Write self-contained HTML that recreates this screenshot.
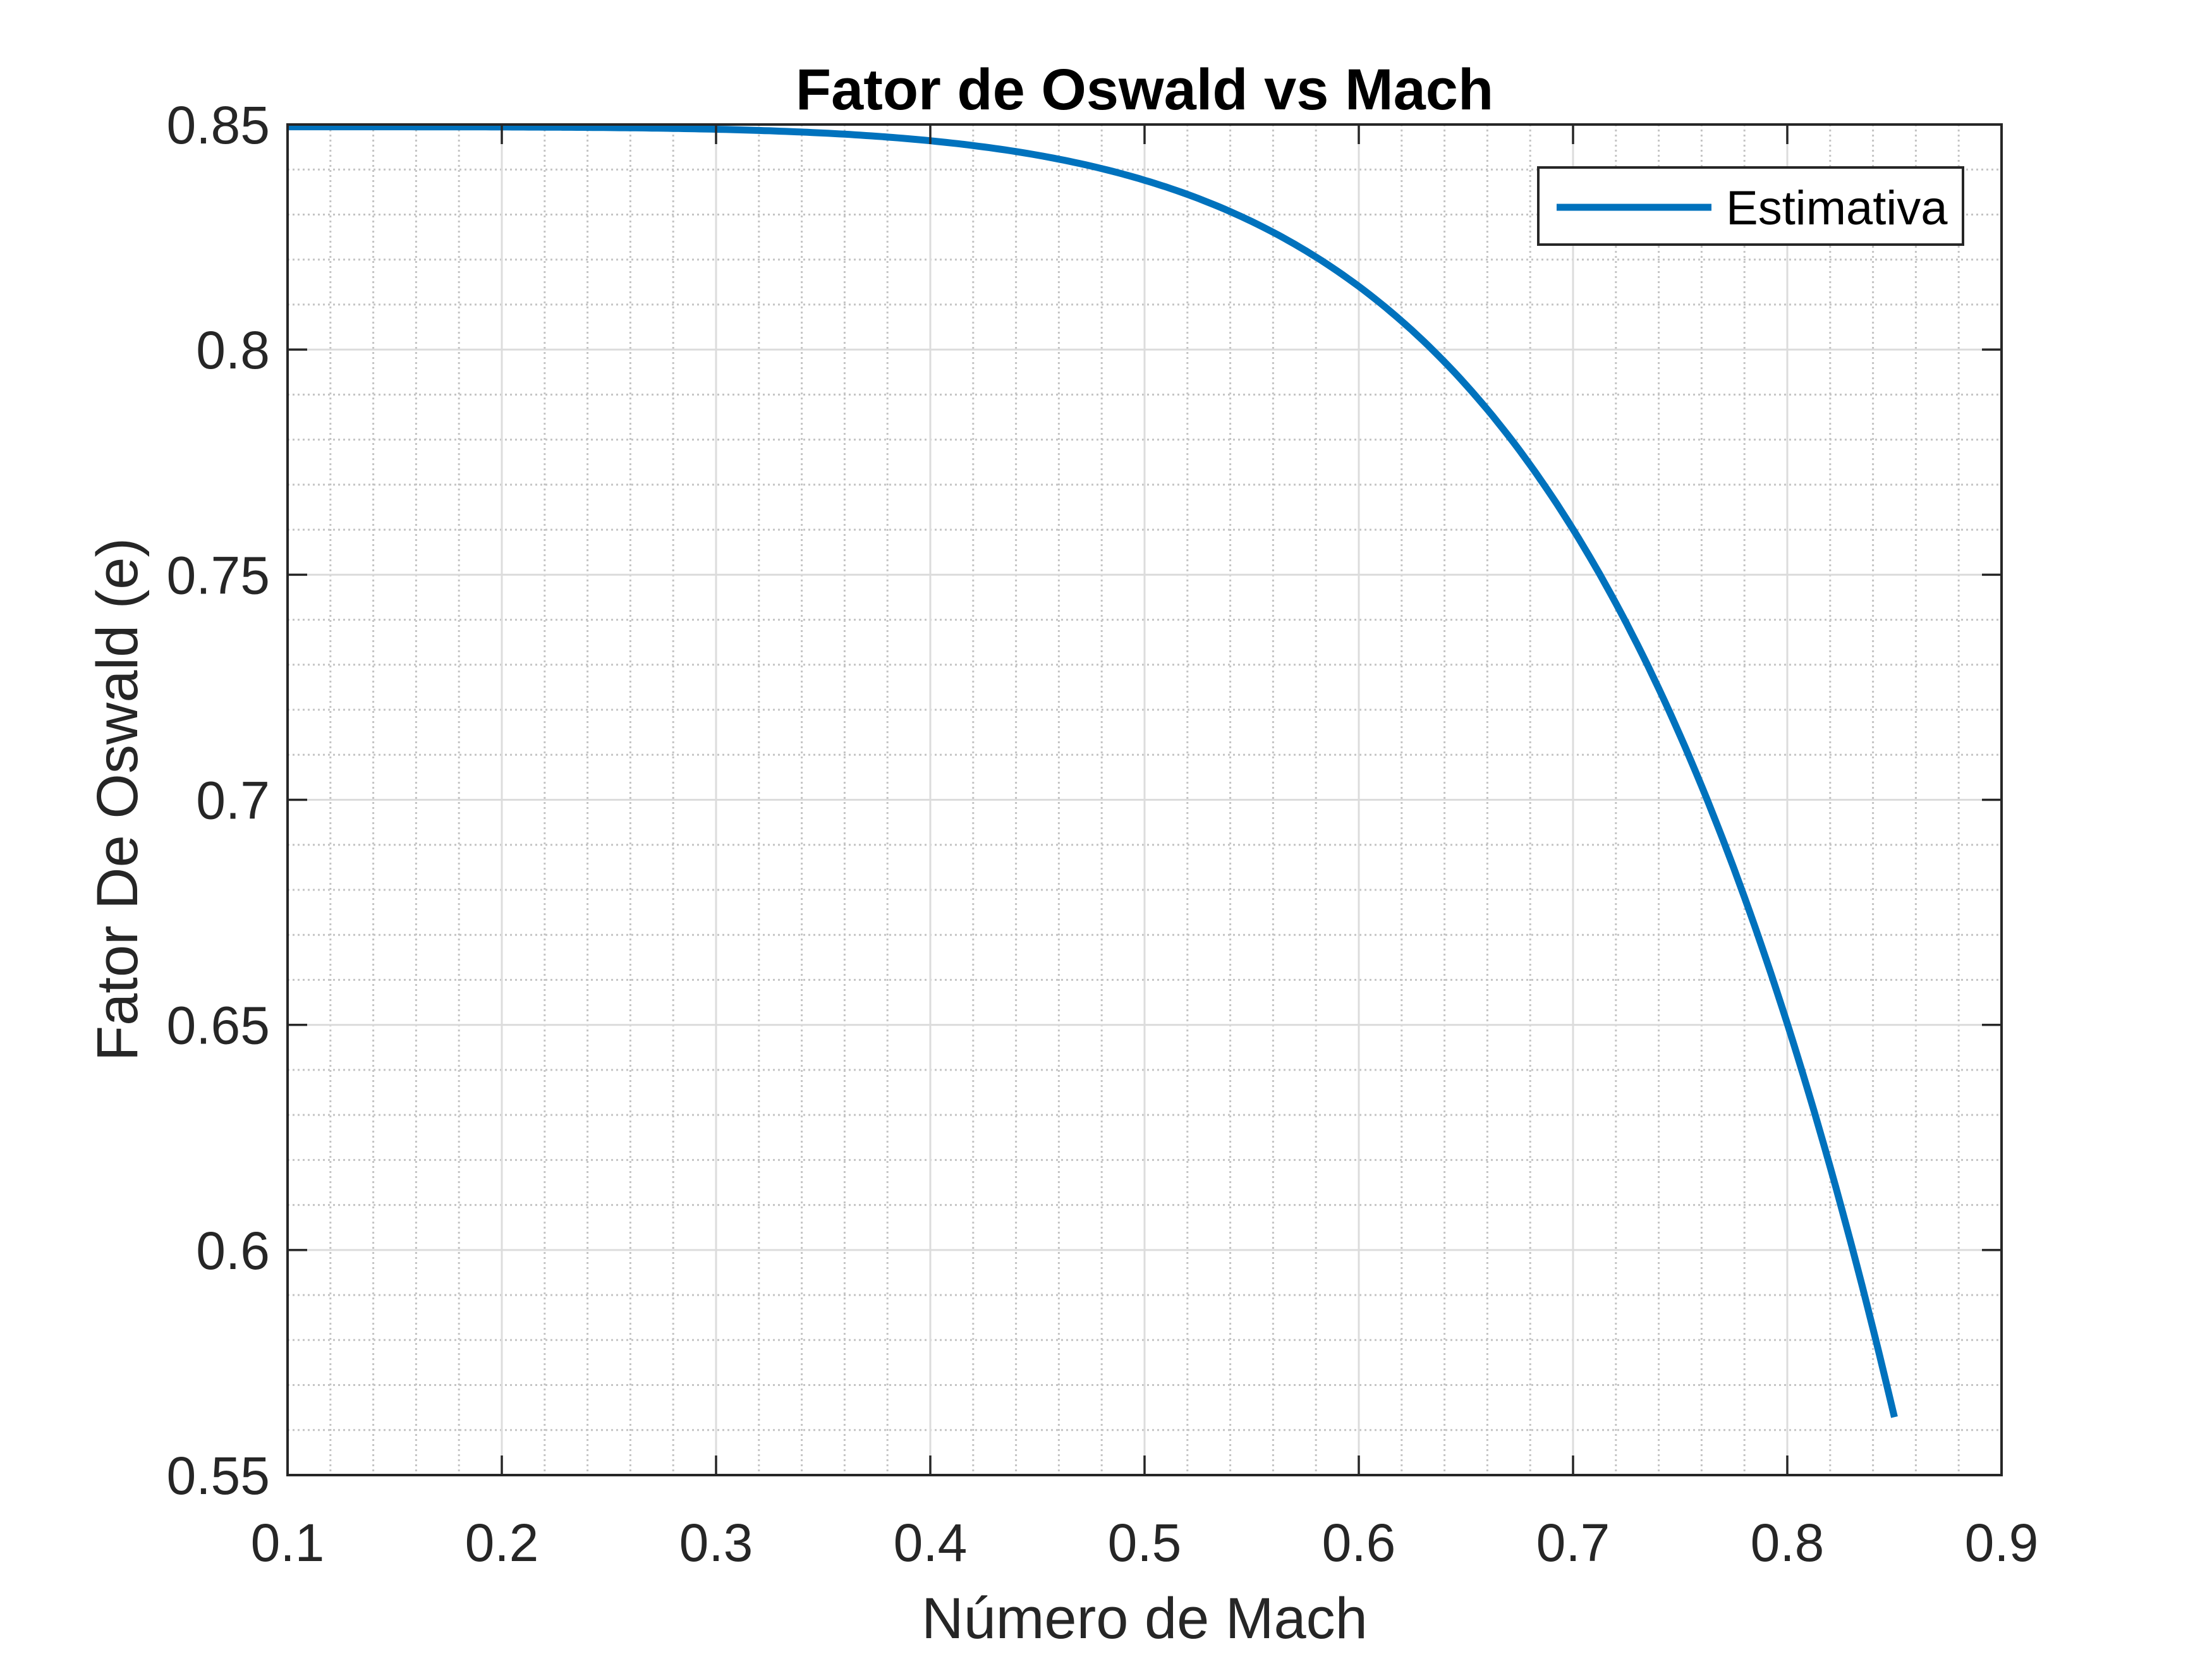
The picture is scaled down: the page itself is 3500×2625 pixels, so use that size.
<!DOCTYPE html>
<html><head><meta charset="utf-8"><style>
html,body{margin:0;padding:0;background:#fff;}
svg{display:block;}
text{font-family:"Liberation Sans",Arial,sans-serif;}
</style></head><body>
<svg id="s" width="3500" height="2625" viewBox="0 0 3500 2625" xmlns="http://www.w3.org/2000/svg">
<rect width="3500" height="2625" fill="#fff"/>
<g id="minor" stroke="#c4c4c4" stroke-width="3" stroke-dasharray="3 5"></g>
<g id="major" stroke="#dcdcdc" stroke-width="3"></g>
<path id="curve" fill="none" stroke="#0072bd" stroke-width="11" stroke-linejoin="round"/>
<g id="ticks" stroke="#262626" stroke-width="3.5"></g>
<rect x="455" y="197" width="2712" height="2137" fill="none" stroke="#262626" stroke-width="4"/>
<g id="labels" fill="#262626" font-size="84"></g>
<text x="1811" y="173" text-anchor="middle" font-size="92" font-weight="bold" fill="#000">Fator de Oswald vs Mach</text>
<text x="1811" y="2592" text-anchor="middle" font-size="92" fill="#262626">Número de Mach</text>
<text transform="translate(217,1265) rotate(-90)" text-anchor="middle" font-size="92" fill="#262626">Fator De Oswald (e)</text>
<rect x="2434" y="265" width="672" height="122" fill="#fff" stroke="#262626" stroke-width="4"/>
<line x1="2463" y1="328" x2="2708" y2="328" stroke="#0072bd" stroke-width="11"/>
<text x="2731" y="355" font-size="76" fill="#000">Estimativa</text>
</svg>
<script>
var NS="http://www.w3.org/2000/svg";
var L=455,R=3167,T=197,B=2334;
function X(m){return L+(m-0.1)/0.8*(R-L);}
function Y(e){return T+(0.85-e)/0.3*(B-T);}
function ln(g,x1,y1,x2,y2){var l=document.createElementNS(NS,"line");l.setAttribute("x1",x1);l.setAttribute("y1",y1);l.setAttribute("x2",x2);l.setAttribute("y2",y2);document.getElementById(g).appendChild(l);}
function tx(x,y,s,a){var t=document.createElementNS(NS,"text");t.setAttribute("x",x);t.setAttribute("y",y);t.setAttribute("text-anchor",a);t.textContent=s;document.getElementById("labels").appendChild(t);}
for(var i=1;i<40;i++){if(i%5==0)continue;var x=X(0.1+i*0.02);ln("minor",x,T,x,B);}
for(var i=1;i<30;i++){if(i%5==0)continue;var y=Y(0.55+i*0.01);ln("minor",L,y,R,y);}
for(var i=1;i<8;i++){var x=X(0.1+i*0.1);ln("major",x,T,x,B);}
for(var i=1;i<6;i++){var y=Y(0.55+i*0.05);ln("major",L,y,R,y);}
for(var i=0;i<=8;i++){var x=X(0.1+i*0.1);ln("ticks",x,B,x,B-31);ln("ticks",x,T,x,T+31);tx(x,2470,(0.1+i*0.1).toFixed(1).replace(/0$/,""),"middle");}
var yl=["0.55","0.6","0.65","0.7","0.75","0.8","0.85"];
for(var i=0;i<=6;i++){var y=Y(0.55+i*0.05);ln("ticks",L,y,L+31,y);ln("ticks",R,y,R-31,y);tx(427,y+30,yl[i],"end");}
var d="";
for(var i=0;i<=300;i++){var m=0.1+i*0.75/300;var e=0.8495-0.760*Math.pow(m,6);d+=(i?"L":"M")+X(m).toFixed(1)+" "+Y(e).toFixed(1);}
document.getElementById("curve").setAttribute("d",d);
</script>
</body></html>
